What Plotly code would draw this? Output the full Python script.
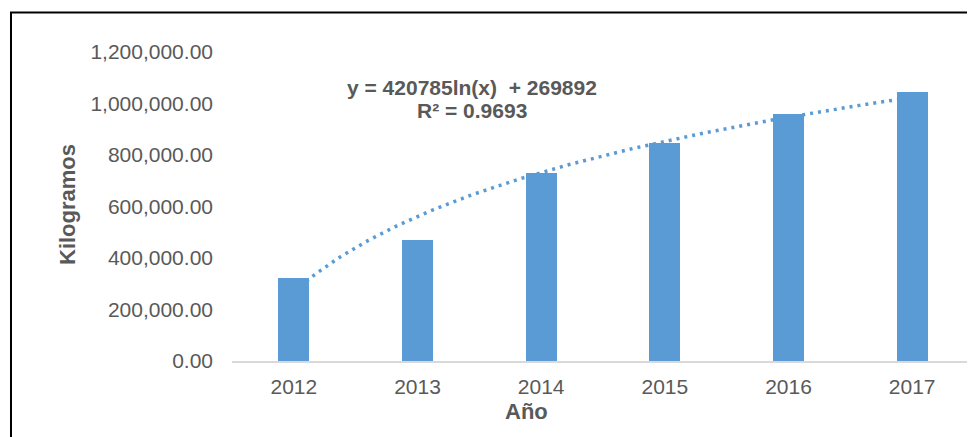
import numpy as np
import plotly.graph_objects as go

# ---- data ----
years = ["2012", "2013", "2014", "2015", "2016", "2017"]
kilogramos = [324000, 468000, 731000, 847000, 958000, 1044000]
trend_a = 420785     # coefficient of ln(x)
trend_b = 269892     # intercept
r2_text = "R² = 0.9693"
eq_text = "y = 420785ln(x)  + 269892"
y_ticks = [0, 200000, 400000, 600000, 800000, 1000000, 1200000]

# ---- layout geometry (page has an 8px body margin) ----
OFF = 8
W, H = 975 - OFF, 437 - OFF
ML, MR, MT, MB = 232 - OFF, 1, 52 - OFF, 76
PW, PH = W - ML - MR, H - MT - MB

def px_x(px):
    return (px - OFF - ML) / PW

def px_y(py):
    return (H - MB - (py - OFF)) / PH

xpos = list(range(len(years)))
xt = np.linspace(0, len(years) - 1, 200)
yt = trend_a * np.log(xt + 1) + trend_b

BLUE = "#5b9bd5"
GRAY = "#595959"
FONT = "Liberation Sans, Arial, sans-serif"

fig = go.Figure()
# trendline on base axes (drawn below the bars)
fig.add_trace(go.Scatter(
    x=xt, y=yt, mode="lines", xaxis="x", yaxis="y",
    line=dict(color=BLUE, width=3.5, dash="3px,5px"),
    showlegend=False, hoverinfo="skip"))
# bars on overlaying axes (drawn on top)
fig.add_trace(go.Bar(
    x=xpos, y=kilogramos, xaxis="x2", yaxis="y2",
    width=0.25, marker=dict(color=BLUE, line=dict(width=0)),
    showlegend=False))

rng_x = [-0.5, len(years) - 0.5]
rng_y = [0, 1200000]

fig.update_layout(
    width=W, height=H,
    margin=dict(l=ML, r=MR, t=MT, b=MB),
    paper_bgcolor="white", plot_bgcolor="rgba(0,0,0,0)",
    font=dict(family=FONT, color=GRAY, size=21),
    xaxis=dict(range=rng_x, tickmode="array", tickvals=xpos, ticktext=years,
               showgrid=False, zeroline=False, showline=True,
               linecolor="#d9d9d9", linewidth=2, ticks="",
               ticklabelstandoff=6,
               tickfont=dict(size=21, color=GRAY, family=FONT)),
    yaxis=dict(range=rng_y, tickmode="array", tickvals=y_ticks,
               tickformat=",.2f", showgrid=False, zeroline=False,
               showline=False, ticks="", ticklabelstandoff=18,
               tickfont=dict(size=21, color=GRAY, family=FONT)),
    xaxis2=dict(range=rng_x, overlaying="x", visible=False),
    yaxis2=dict(range=rng_y, overlaying="y", visible=False),
    bargap=0,
)

annots = [
    dict(text="<b>" + eq_text + "</b>", x=px_x(472), y=px_y(87)),
    dict(text="<b>" + r2_text + "</b>", x=px_x(472), y=px_y(110)),
    dict(text="<b>Año</b>", x=px_x(526), y=px_y(411), size=22),
    dict(text="<b>Kilogramos</b>", x=px_x(67), y=px_y(205), size=22, angle=-90),
]
for a in annots:
    fig.add_annotation(
        text=a["text"], x=a["x"], y=a["y"], xref="paper", yref="paper",
        xanchor="center", yanchor="middle", showarrow=False,
        textangle=a.get("angle", 0),
        font=dict(family=FONT, size=a.get("size", 21), color=GRAY))

# chart border (extends beyond the visible image on the right and bottom)
fig.add_shape(type="rect", xref="paper", yref="paper",
              x0=px_x(11), x1=px_x(990), y0=px_y(450), y1=px_y(12.5),
              line=dict(color="black", width=2), fillcolor="rgba(0,0,0,0)",
              layer="above")

fig.write_html("out.html")
